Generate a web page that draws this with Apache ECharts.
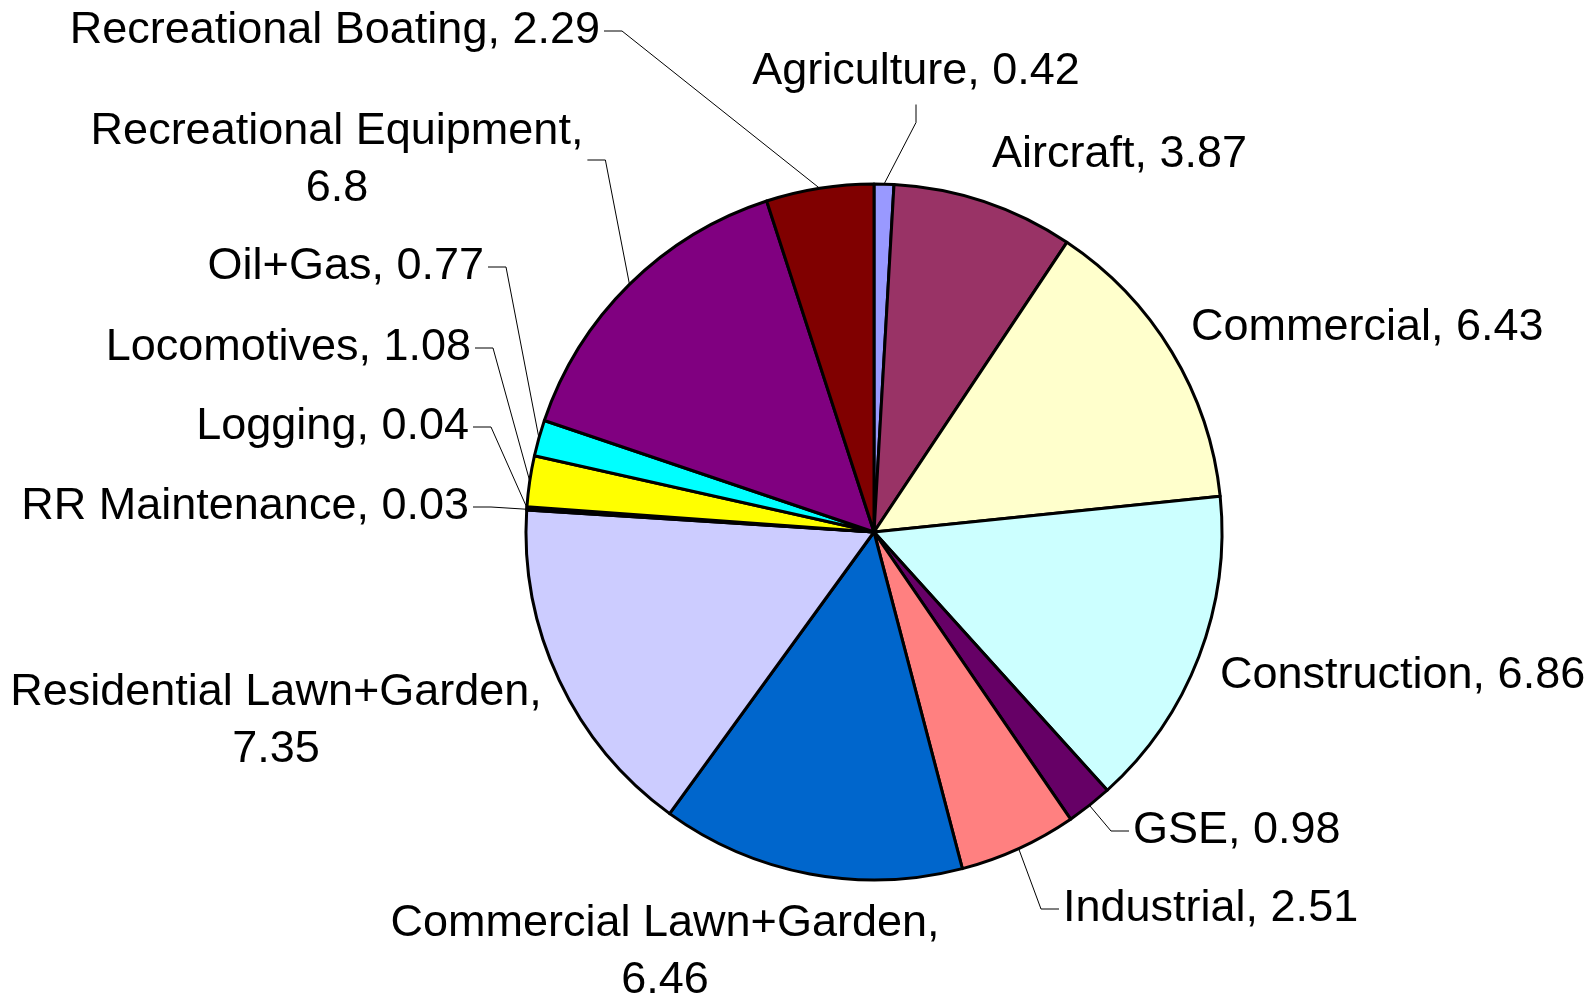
<!DOCTYPE html>
<html>
<head>
<meta charset="utf-8">
<title>Emissions by equipment type</title>
<script src="https://cdn.jsdelivr.net/npm/echarts@6/dist/echarts.min.js"></script>
<style>
  html, body { margin: 0; padding: 0; background: #fff; }
  #chart { width: 1591px; height: 997px; }
</style>
</head>
<body>
<div id="chart"></div>
<script>
// slices, clockwise from 12 o'clock
var categories = ['Agriculture', 'Aircraft', 'Commercial', 'Construction', 'GSE', 'Industrial',
  'Commercial Lawn+Garden', 'Residential Lawn+Garden', 'RR Maintenance', 'Logging',
  'Locomotives', 'Oil+Gas', 'Recreational Equipment', 'Recreational Boating']
var values = [0.42, 3.87, 6.43, 6.86, 0.98, 2.51, 6.46, 7.35, 0.03, 0.04, 1.08, 0.77, 6.8, 2.29]
var colors = ['#9999ff', '#993366', '#ffffcc', '#ccffff', '#660066', '#ff8080', '#0066cc',
  '#ccccff', '#000080', '#ff00ff', '#ffff00', '#00ffff', '#800080', '#800000']

// labels that put the value on a second line
var wrapped = ['Commercial Lawn+Garden', 'Residential Lawn+Garden', 'Recreational Equipment']

// label placement: x, y (middle), text align, side the leader line leaves from
var labelSpots = {
  'Agriculture': [916, 72, 'center', 'bottom'],
  'Aircraft': [992, 155, 'left', 'none'],
  'Commercial': [1191, 328, 'left', 'none'],
  'Construction': [1220, 676, 'left', 'none'],
  'GSE': [1133, 831, 'left', 'left'],
  'Industrial': [1063, 909, 'left', 'left'],
  'Commercial Lawn+Garden': [665, 952, 'center', 'none'],
  'Residential Lawn+Garden': [276, 721, 'center', 'none'],
  'RR Maintenance': [469, 507, 'right', 'right'],
  'Logging': [469, 427, 'right', 'right'],
  'Locomotives': [471, 348, 'right', 'right'],
  'Oil+Gas': [484, 267, 'right', 'right'],
  'Recreational Equipment': [337, 160, 'center', 'right'],
  'Recreational Boating': [600, 31, 'right', 'right']
}

var chart = echarts.init(document.getElementById('chart'))

var pieData = categories.map(function (name, i) {
  return {
    name: name,
    value: values[i],
    itemStyle: { color: colors[i] },
    labelLine: { show: labelSpots[name][3] !== 'none' }
  }
})

chart.setOption({
  animation: false,
  backgroundColor: '#ffffff',
  series: [{
    type: 'pie',
    center: [874, 532],
    radius: 348,
    startAngle: 90,
    clockwise: true,
    avoidLabelOverlap: false,
    data: pieData,
    itemStyle: {
      borderColor: '#000000',
      borderWidth: 3
    },
    label: {
      show: true,
      position: 'outer',
      alignTo: 'none',
      color: '#000000',
      fontFamily: '"Liberation Sans", Arial, sans-serif',
      fontSize: 45,
      lineHeight: 57,
      formatter: function (p) {
        return wrapped.indexOf(p.name) >= 0 ? p.name + ',\n' + p.value : p.name + ', ' + p.value
      }
    },
    labelLine: {
      smooth: false,
      lineStyle: { color: '#000000', width: 1 }
    },
    labelLayout: function (params) {
      var spot = labelSpots[categories[params.dataIndex]]
      var x = spot[0], y = spot[1], align = spot[2], side = spot[3]
      var w = params.labelRect.width, h = params.labelRect.height
      var out = { x: x, y: y, align: align, verticalAlign: 'middle' }
      if (side !== 'none' && params.labelLinePoints) {
        var left = align === 'right' ? x - w : (align === 'center' ? x - w / 2 : x)
        var a, b
        if (side === 'right') {
          a = [left + w + 4, y]; b = [a[0] + 18, y]
        } else if (side === 'left') {
          a = [left - 4, y]; b = [a[0] - 18, y]
        } else {
          a = [left + w / 2, y + h / 2 + 4]; b = [a[0], a[1] + 18]
        }
        out.labelLinePoints = [params.labelLinePoints[0], b, a]
      }
      return out
    },
    emphasis: { disabled: true }
  }]
})
</script>
</body>
</html>
